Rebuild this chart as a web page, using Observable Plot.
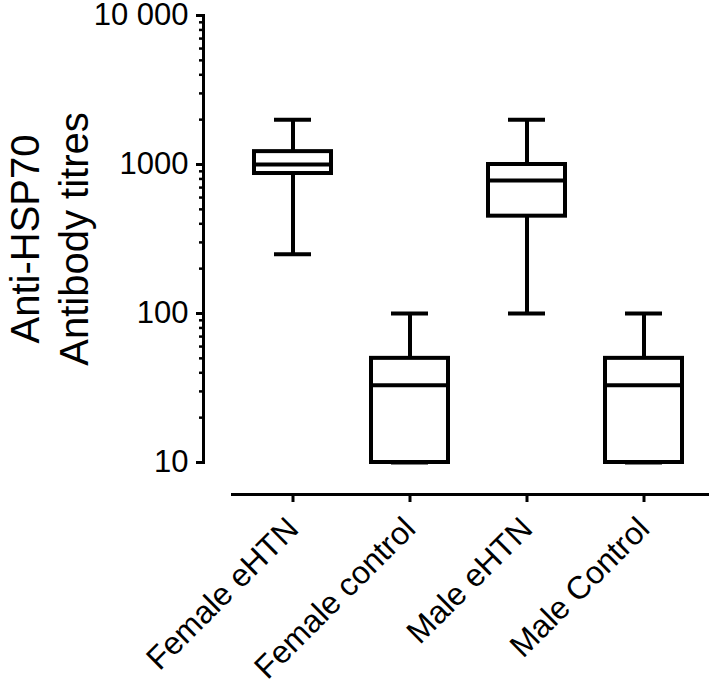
<!DOCTYPE html>
<html>
<head>
<meta charset="utf-8">
<script src="https://cdn.jsdelivr.net/npm/d3@7"></script>
<script src="https://cdn.jsdelivr.net/npm/@observablehq/plot@0.6"></script>
<style>
  html, body { margin: 0; padding: 0; background: #fff; }
  #chart svg { display: block; }
</style>
</head>
<body>
<div id="chart"></div>
<script>
const categories = ["Female eHTN", "Female control", "Male eHTN", "Male Control"];
const mins    = [250, 10, 100, 10];
const q1s     = [870, 10, 450, 10];
const medians = [1000, 33, 780, 33];
const q3s     = [1220, 50, 1000, 50];
const maxs    = [2000, 100, 2000, 100];

const majorTicks = [10, 100, 1000, 10000];
const majorTickLabels = ["10", "100", "1000", "10 000"];
const minorTicks = [20, 30, 40, 50, 60, 70, 80, 90,
                    200, 300, 400, 500, 600, 700, 800, 900,
                    2000, 3000, 4000, 5000, 6000, 7000, 8000, 9000];
const yTitle = "Anti-HSP70\nAntibody titres";

const data = categories.map((c, i) => ({
  cat: c, min: mins[i], q1: q1s[i], med: medians[i], q3: q3s[i], max: maxs[i]
}));

const sw = 4;
const chart = Plot.plot({
  width: 709,
  height: 684,
  marginLeft: 203,
  marginRight: 0,
  marginTop: 15,
  marginBottom: 190,
  style: { fontFamily: "'Liberation Sans', Arial, sans-serif", background: "#fff", color: "#000", overflow: "visible" },
  x: { type: "band", domain: categories, range: [232, 703], padding: 0, axis: null },
  y: { type: "log", domain: [10, 10000], range: [462, 15], axis: null },
  marks: [
    Plot.frame({ anchor: "left", insetBottom: 32, strokeWidth: 3, stroke: "#000" }),
    Plot.frame({ anchor: "bottom", insetLeft: 29, strokeWidth: 3, stroke: "#000" }),
    Plot.axisY({
      ticks: majorTicks,
      tickFormat: d => majorTickLabels[majorTicks.indexOf(d)],
      tickSize: 7, tickPadding: 8, fontSize: 31, strokeWidth: 3, label: null
    }),
    Plot.axisY({
      ticks: minorTicks, tickFormat: () => "",
      tickSize: 4, strokeWidth: 2.5, label: null
    }),
    Plot.axisX({
      tickSize: 8, tickPadding: 21, tickRotate: -45, fontSize: 32, strokeWidth: 3, label: null
    }),
    Plot.ruleX(data, { x: "cat", y1: "min", y2: "q1", stroke: "#000", strokeWidth: sw }),
    Plot.ruleX(data, { x: "cat", y1: "q3", y2: "max", stroke: "#000", strokeWidth: sw }),
    Plot.tickY(data, { x: "cat", y: "min", insetLeft: 40, insetRight: 40, stroke: "#000", strokeWidth: sw }),
    Plot.tickY(data, { x: "cat", y: "max", insetLeft: 40, insetRight: 40, stroke: "#000", strokeWidth: sw }),
    Plot.barY(data, { x: "cat", y1: "q1", y2: "q3", insetLeft: 20, insetRight: 20, fill: "#fff", stroke: "#000", strokeWidth: sw }),
    Plot.tickY(data, { x: "cat", y: "med", insetLeft: 20, insetRight: 20, stroke: "#000", strokeWidth: sw }),
    Plot.text([yTitle], {
      frameAnchor: "left", rotate: -90, textAnchor: "middle", lineAnchor: "middle",
      dx: -156, dy: -16, fontSize: 40, lineHeight: 1.22, fill: "#000"
    })
  ]
});
document.getElementById("chart").append(chart);
</script>
</body>
</html>
